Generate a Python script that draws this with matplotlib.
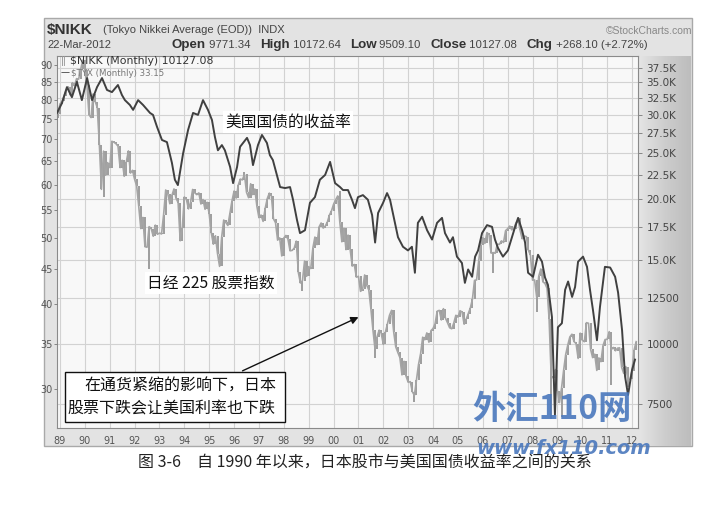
import matplotlib
matplotlib.use("Agg")
import matplotlib.pyplot as plt
import numpy as np
from matplotlib.patches import Rectangle, FancyArrowPatch
from matplotlib.ticker import FixedLocator, NullLocator, FixedFormatter

plt.rcParams['font.family'] = ['DejaVu Sans', 'Noto Sans CJK SC']
CJK = ['Noto Sans CJK SC', 'DejaVu Sans']
NARROW = ['Liberation Sans', 'DejaVu Sans']

# ---------------- data ----------------
# Nikkei 225 monthly closes, Dec 1988 .. Mar 2012
nikkei_first_month = (1988, 12)
nikkei_first_open = 29579
nikkei_close = [
    30159,
    31581, 31985, 32839, 33713, 34266, 32948, 34954, 34431, 35637, 35549, 37269, 38916,
    37189, 34592, 29980, 29585, 33131, 31940, 31036, 25978, 20984, 25194, 22455, 23849,
    23293, 26409, 26292, 26111, 25790, 23291, 24121, 22336, 23916, 25222, 22687, 22984,
    22023, 21339, 19346, 17391, 18348, 15952, 15910, 17555, 17399, 16767, 17684, 16925,
    17024, 16953, 18591, 20919, 20552, 19590, 20380, 21027, 20106, 19703, 16408, 17417,
    20229, 19997, 19112, 19725, 20974, 20644, 20462, 20629, 19564, 19990, 19076, 19723,
    18650, 17053, 16140, 16807, 15437, 14517, 16678, 18117, 17913, 17655, 18744, 19868,
    20813, 20125, 21407, 22041, 21956, 22531, 20693, 20167, 21556, 20467, 21020, 19361,
    18330, 18557, 18003, 19151, 20069, 20605, 20331, 18229, 17888, 16459, 16636, 15259,
    16628, 16832, 16527, 15641, 15671, 15830, 16379, 14108, 13406, 13564, 14884, 13842,
    14499, 14368, 15837, 16702, 16112, 17530, 17862, 17437, 17605, 17942, 18558, 18934,
    19540, 19960, 20337, 17974, 16332, 17411, 15727, 16861, 15747, 14539, 14649, 13786,
    13844, 12884, 12999, 13934, 13262, 12969, 11861, 10713, 9775, 10366, 10697, 10543,
    9998, 10588, 11025, 11493, 11764, 10622, 9878, 9619, 9383, 8640, 9216, 8579,
    8340, 8363, 7973, 7831, 8425, 9083, 9563, 10344, 10219, 10560, 10101, 10677,
    10784, 11042, 11715, 11762, 11236, 11858, 11326, 11082, 10824, 10771, 11069, 11489,
    11388, 11741, 11669, 11009, 11277, 11584, 11900, 12414, 13574, 13607, 14872, 16111,
    16650, 16206, 17060, 16906, 15467, 15505, 15457, 16141, 16128, 16399, 16274, 17226,
    17383, 17604, 17288, 17400, 17876, 18138, 17249, 16569, 16786, 16738, 15681, 15308,
    13592, 13603, 12526, 13850, 14339, 13481, 13377, 13073, 11260, 8577, 8512, 8860,
    7994, 7568, 8110, 8828, 9523, 9958, 10357, 10493, 10133, 10035, 9346, 10546,
    10198, 10126, 11090, 11057, 9769, 9383, 9537, 8824, 9369, 9202, 9937, 10229,
    10238, 10624, 9755, 9850, 9694, 9816, 9833, 8955, 8700, 8988, 8435, 8455,
    8803, 9723, 10127,
]
# intramonth extremes visible as spikes
nikkei_extreme_months = ['1989-12', '1990-10', '1992-08', '1996-06', '1998-10', '2000-04',
                         '2001-09', '2003-04', '2006-06', '2007-07', '2008-03', '2008-10',
                         '2009-03', '2011-03', '2011-11']
nikkei_extreme_values = [38957, 20222, 14309, 22750, 12880, 20833,
                         9382, 7603, 14045, 18262, 11691, 6994,
                         7055, 8227, 8135]

# 30-year Treasury yield x10 (monthly)
tyx_time = [1988.88, 1989.08, 1989.28, 1989.48, 1989.68, 1989.88, 1990.09, 1990.29, 1990.49, 1990.69,
            1990.89, 1991.09, 1991.33, 1991.49, 1991.61, 1991.81, 1991.94, 1992.14, 1992.34, 1992.62,
            1992.74, 1992.90, 1993.10, 1993.30, 1993.50, 1993.62, 1993.74, 1993.95, 1994.15, 1994.35,
            1994.55, 1994.75, 1994.95, 1995.11, 1995.23, 1995.35, 1995.51, 1995.63, 1995.84, 1995.96,
            1996.12, 1996.24, 1996.52, 1996.64, 1996.76, 1996.96, 1997.12, 1997.32, 1997.44, 1997.56,
            1997.69, 1997.85, 1998.05, 1998.25, 1998.37, 1998.53, 1998.65, 1998.85, 1999.05, 1999.25,
            1999.45, 1999.66, 1999.86, 2000.06, 2000.26, 2000.38, 2000.58, 2000.74, 2000.86, 2000.98,
            2001.18, 2001.38, 2001.55, 2001.67, 2001.79, 2001.99, 2002.15, 2002.27, 2002.47, 2002.59,
            2002.79, 2002.99, 2003.15, 2003.27, 2003.39, 2003.56, 2003.76, 2003.96, 2004.16, 2004.36,
            2004.48, 2004.68, 2004.80, 2004.96, 2005.16, 2005.28, 2005.41, 2005.57, 2005.69, 2005.81,
            2005.97, 2006.17, 2006.37, 2006.49, 2006.61, 2006.81, 2007.01, 2007.17, 2007.30, 2007.42,
            2007.58, 2007.70, 2007.82, 2008.02, 2008.22, 2008.38, 2008.50, 2008.62, 2008.78, 2008.90,
            2009.02, 2009.18, 2009.31, 2009.43, 2009.59, 2009.71, 2009.83, 2010.03, 2010.19, 2010.31,
            2010.43, 2010.59, 2010.71, 2010.91, 2011.12, 2011.32, 2011.44, 2011.60, 2011.72, 2011.84,
            2012.00, 2012.12]
tyx_value = [76.5, 79.1, 83.5, 80.7, 85.0, 79.9, 86.1, 79.9, 83.5, 86.1,
             82.7, 82.1, 84.1, 81.3, 79.9, 78.6, 77.3, 79.9, 78.6, 76.5,
             76.0, 73.0, 69.8, 69.3, 64.6, 61.0, 59.9, 66.7, 72.2, 76.5,
             76.0, 79.9, 77.3, 74.7, 70.5, 67.4, 68.6, 67.4, 63.7, 60.3,
             63.7, 68.2, 70.3, 68.6, 64.1, 68.6, 71.0, 69.1, 66.3, 65.2,
             62.6, 59.5, 59.3, 59.5, 57.0, 53.2, 50.9, 51.4, 56.4, 57.5,
             61.0, 62.0, 64.8, 60.3, 59.5, 58.9, 58.9, 57.0, 55.4, 57.5,
             57.9, 57.0, 54.1, 49.3, 54.5, 56.4, 58.3, 57.0, 52.7, 50.2,
             48.6, 48.0, 48.6, 44.5, 52.7, 53.8, 51.4, 49.8, 52.7, 53.6,
             50.9, 49.3, 50.2, 47.0, 46.0, 43.0, 45.0, 43.9, 47.0, 48.0,
             50.9, 52.3, 52.0, 49.8, 48.4, 47.0, 48.0, 50.2, 52.0, 53.6,
             51.4, 49.3, 44.5, 43.9, 47.3, 46.2, 43.8, 42.7, 38.3, 27.5,
             37.0, 37.5, 42.0, 43.2, 41.0, 42.4, 46.2, 47.0, 45.4, 42.0,
             39.2, 35.4, 39.6, 45.4, 45.3, 43.9, 41.6, 36.6, 31.3, 29.4,
             32.0, 33.15]

left_ticks = [30, 35, 40, 45, 50, 55, 60, 65, 70, 75, 80, 85, 90]
right_ticks = [7500, 10000, 12500, 15000, 17500, 20000, 22500, 25000, 27500, 30000, 32500, 35000, 37500]
right_tick_labels = ['7500', '10000', '12500', '15.0K', '17.5K', '20.0K', '22.5K', '25.0K',
                     '27.5K', '30.0K', '32.5K', '35.0K', '37.5K']
years = list(range(1989, 2013))
year_labels = ['%02d' % (y % 100) for y in years]

# ---------------- figure ----------------
W, H = 716, 505
fig = plt.figure(figsize=(W / 100, H / 100), dpi=100)
fig.patch.set_facecolor('white')


def fx(x):
    return x / W


def fy(y):
    return 1 - y / H


# StockCharts panel
fig.patches.append(Rectangle((fx(44), fy(446)), (692 - 44) / W, (446 - 18) / H,
                             transform=fig.transFigure, facecolor='#e3e3e3',
                             edgecolor='#a9a9a9', lw=1.0, zorder=-10))
gax = fig.add_axes([fx(639), fy(446), (691 - 639) / W, (446 - 56) / H], zorder=-5)
grad = np.linspace(0, 1, 64)[None, :]
gax.imshow(grad, aspect='auto', cmap=matplotlib.colors.LinearSegmentedColormap.from_list(
    'g', ['#e4e4e4', '#cdcdcd', '#bdbdbd']), extent=[0, 1, 0, 1])
gax.set_axis_off()

# main axes (Nikkei, right scale)
ax = fig.add_axes([fx(57), fy(428), (638 - 57) / W, (428 - 56) / H], zorder=1)
ax.set_facecolor('#f8f8f8')
ax.set_yscale('log')
ax.set_ylim(6700, 39716)
ax.set_xlim(1988.88, 2012.24)

t_nk = np.array([nikkei_first_month[0] + (nikkei_first_month[1] - 1) / 12 + i / 12
                 for i in range(len(nikkei_close))])
close = np.array(nikkei_close, dtype=float)
opens = np.concatenate([[nikkei_first_open], close[:-1]])
lo = np.minimum(opens, close)
hi = np.maximum(opens, close)
for m, v in zip(nikkei_extreme_months, nikkei_extreme_values):
    yy, mm = int(m[:4]), int(m[5:])
    idx = (yy - nikkei_first_month[0]) * 12 + (mm - nikkei_first_month[1])
    lo[idx] = min(lo[idx], v)
    hi[idx] = max(hi[idx], v)
ax.vlines(t_nk, lo, hi, color='#9d9d9d', lw=1.4, zorder=2)
ax.plot(t_nk, close, color='#a5a5a5', lw=1.2, zorder=2)

ax.set_xticks(years)
ax.set_xticklabels(year_labels)
ax.tick_params(axis='x', length=0, labelsize=7, labelcolor='#555', pad=6)
ax.grid(True, color='#d2d2d2', lw=0.8)
ax.set_axisbelow(True)
for s in ax.spines.values():
    s.set_color('#8a8a8a')
    s.set_linewidth(0.8)

# TYX on twin axis
ax2 = ax.twinx()
ax2.set_yscale('log')
ax2.set_ylim(26.29, 92.79)
ax2.plot(tyx_time, tyx_value, color='#404040', lw=1.4, zorder=3)
for s in ax2.spines.values():
    s.set_visible(False)

# tick placement (after twinx, which resets sides)
ax.yaxis.tick_right()
ax.yaxis.set_label_position('right')
ax.yaxis.set_major_locator(FixedLocator(right_ticks))
ax.yaxis.set_major_formatter(FixedFormatter(right_tick_labels))
ax.yaxis.set_minor_locator(NullLocator())
ax.tick_params(axis='y', which='major', left=False, right=True, labelleft=False, labelright=True,
               length=3, width=0.6, color='#777', labelsize=7.5, labelcolor='#444', pad=3)

ax2.yaxis.tick_left()
ax2.yaxis.set_major_locator(FixedLocator(left_ticks))
ax2.yaxis.set_major_formatter(FixedFormatter([str(v) for v in left_ticks]))
ax2.yaxis.set_minor_locator(NullLocator())
ax2.tick_params(axis='y', which='major', left=True, right=False, labelleft=True, labelright=False,
                length=2, width=0.6, color='#777', labelsize=7, labelcolor='#555', pad=1)

# legend text
fig.text(fx(61), fy(61), 'ǁ', fontsize=7, color='#999', va='center')
fig.text(fx(70), fy(61), r'\$NIKK (Monthly) 10127.08', fontsize=7.8, color='#333', va='center')
fig.text(fx(61), fy(73), '—', fontsize=6.5, color='#333', va='center')
fig.text(fx(71), fy(73), r'\$TYX (Monthly) 33.15', fontsize=6.2, color='#777', va='center')

# header
fig.text(fx(47), fy(30), r'\$NIKK', fontsize=11, fontweight='bold', color='#333', va='center',
         family=NARROW)
fig.text(fx(103), fy(30), '(Tokyo Nikkei Average (EOD))  INDX', fontsize=8, color='#444',
         va='center', family=NARROW)
fig.text(fx(692), fy(31), '©StockCharts.com', fontsize=7.5, color='#888', va='center', ha='right',
         family=NARROW)
fig.text(fx(47), fy(45), '22-Mar-2012', fontsize=8, color='#444', va='center', family=NARROW)

renderer = fig.canvas.get_renderer()
parts = [('Open', True), (' 9771.34   ', False), ('High', True), (' 10172.64   ', False),
         ('Low', True), (' 9509.10   ', False), ('Close', True), (' 10127.08   ', False),
         ('Chg', True), (' +268.10 (+2.72%)', False)]
xpos = 172.0
for txt, bold in parts:
    t = fig.text(fx(xpos), fy(45), txt, fontsize=9.6 if bold else 8.2,
                 fontweight='bold' if bold else 'normal', color='#333' if bold else '#444',
                 va='center', family=NARROW)
    bb = t.get_window_extent(renderer)
    xpos += bb.width

# annotations
fig.text(fx(225), fy(122), '美国国债的收益率', fontsize=11.3, family=CJK, va='center', color='#111',
         bbox=dict(facecolor='white', edgecolor='none', pad=1.5), zorder=5)
fig.text(fx(147), fy(283), '日经 225 股票指数', fontsize=11.3, family=CJK, va='center', color='#111',
         bbox=dict(facecolor='white', edgecolor='none', pad=1.5), zorder=5)

fig.patches.append(Rectangle((fx(65), fy(422)), (285 - 65) / W, (422 - 372) / H,
                             transform=fig.transFigure, facecolor='white', edgecolor='#111',
                             lw=1.0, zorder=5))
fig.text(fx(84), fy(386), '在通货紧缩的影响下，日本', fontsize=11.5, family=CJK, va='center',
         color='#111', zorder=6)
fig.text(fx(67), fy(409), '股票下跌会让美国利率也下跌', fontsize=11.5, family=CJK, va='center',
         color='#111', zorder=6)
arr = FancyArrowPatch((fx(240), fy(372)), (fx(361), fy(316)), transform=fig.transFigure,
                      arrowstyle='-|>', mutation_scale=11, lw=1.0, color='#111', zorder=6)
fig.patches.append(arr)

# watermark
fig.text(fx(472), fy(410), '外汇110网', fontsize=24, fontweight='bold', family=CJK,
         color='#4a78bd', alpha=0.9, va='center', zorder=7)
fig.text(fx(476), fy(449), 'www.fx110.com', fontsize=14, fontweight='bold', style='italic',
         color='#4a78bd', alpha=0.9, va='center', zorder=7)

# caption
fig.text(fx(138), fy(463), '图 3-6　自 1990 年以来，日本股市与美国国债收益率之间的关系',
         fontsize=11.5, family=CJK, va='center', color='#222')

fig.savefig('out.png', dpi=100)
